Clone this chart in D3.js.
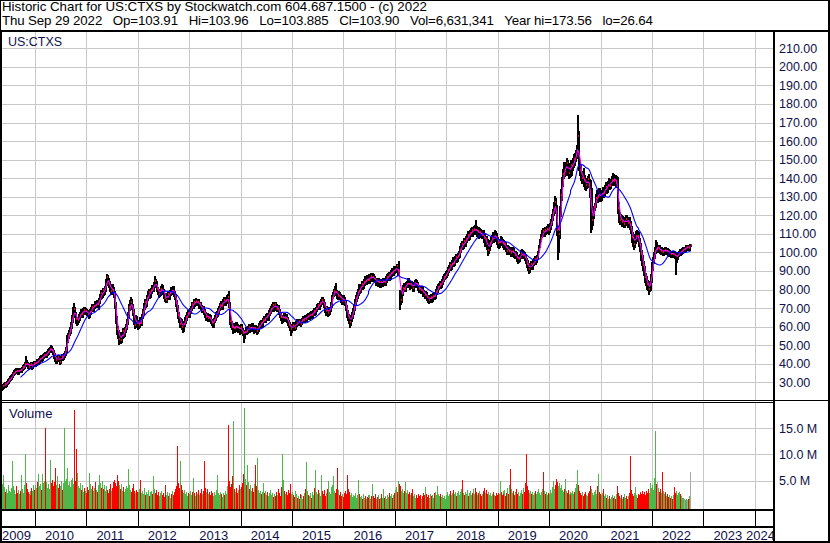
<!DOCTYPE html>
<html><head><meta charset="utf-8">
<script src="https://cdn.jsdelivr.net/npm/d3@7"></script>
<style>html,body{margin:0;padding:0;background:#fff;}svg{display:block;}text{font-family:"Liberation Sans",Arial,sans-serif;}</style>
</head><body><svg id="c" width="830" height="543"></svg>
<script>
const title1 = "Historic Chart for US:CTXS by Stockwatch.com 604.687.1500 - (c) 2022";
const title2 = "Thu Sep 29 2022   Op=103.91   Hi=103.96   Lo=103.885   Cl=103.90   Vol=6,631,341   Year hi=173.56   lo=26.64";
const symbol = "US:CTXS";
const volumeTitle = "Volume";
const firstWeek = "2009-05-04";
const priceTicks = [30,40,50,60,70,80,90,100,110,120,130,140,150,160,170,180,190,200,210];
const volumeTicks = [5,10,15];
const yearLabels = [2009,2010,2011,2012,2013,2014,2015,2016,2017,2018,2019,2020,2021,2022,2023,2024];

// weekly closes
const closes = [
27.0,27.8,28.5,29.0,28.7,29.8,30.5,31.2,32.0,32.5,33.4,34.5,35.2,35.8,36.4,36.0,35.6,36.3,36.8,36.5,37.2,38.0,38.4,39.6,41.2,40.0,38.8,38.5,39.2,39.9,39.0,38.5,39.6,40.2,39.8,
40.5,41.5,41.0,42.0,42.8,43.5,42.9,43.8,44.5,45.2,44.6,45.8,46.5,47.3,48.0,48.6,47.5,46.2,44.8,43.0,41.8,42.5,43.6,42.4,41.2,43.0,44.2,43.5,44.8,45.5,47.5,53.5,55.0,56.5,58.0,60.5,64.0,68.0,69.5,67.0,64.0,62.5,63.5,65.0,66.5,67.8,66.8,68.2,69.0,68.0,68.5,67.8,
67.0,66.0,68.0,69.5,70.5,69.8,71.0,72.5,71.8,73.0,72.0,71.2,74.0,76.5,78.0,77.2,79.5,78.8,80.5,84.0,86.5,85.0,83.0,80.5,79.0,81.5,80.0,77.5,72.0,64.0,58.5,56.0,53.5,55.5,52.8,55.0,57.5,56.0,58.5,60.0,62.5,66.0,70.5,72.5,73.5,71.0,68.0,63.5,61.0,64.5,62.0,60.5,
61.0,63.5,62.0,65.5,68.0,71.0,73.5,72.0,75.5,77.5,78.5,77.0,79.5,81.0,80.2,82.5,84.5,83.0,80.5,79.0,77.5,78.5,80.5,81.5,79.0,77.0,75.5,76.5,74.5,76.0,77.5,76.0,78.5,80.0,79.0,80.5,78.0,76.5,73.0,70.0,66.5,64.0,61.5,63.0,60.0,59.0,61.5,63.5,65.0,66.5,67.5,66.5,
68.5,70.0,72.0,71.5,73.5,72.5,74.0,72.8,73.5,71.5,72.0,70.5,69.0,70.2,68.0,66.5,65.0,66.2,64.5,65.5,64.8,63.0,62.0,61.0,63.5,65.0,66.5,67.0,68.5,70.0,71.5,72.5,71.0,73.5,74.5,73.0,74.0,75.5,76.0,72.0,63.0,61.5,60.0,58.5,59.5,60.5,59.0,61.0,60.0,58.5,59.5,58.0,60.0,
58.0,56.5,55.0,57.0,58.5,57.5,59.0,60.0,58.5,59.5,60.5,59.0,58.0,59.5,58.8,57.5,59.0,60.5,61.5,62.0,61.0,63.5,64.5,63.8,65.5,66.0,65.0,67.5,68.5,69.5,70.5,71.5,70.0,72.0,71.0,69.5,70.5,68.0,66.5,65.0,63.5,65.0,66.0,64.5,65.5,64.0,62.5,61.0,60.0,58.5,59.5,61.0,
60.5,59.5,61.5,62.5,61.8,63.0,62.0,61.5,62.8,63.5,64.5,63.8,65.0,64.2,65.5,66.0,65.2,66.5,67.0,66.2,67.5,68.5,67.8,69.5,70.5,71.5,70.8,72.5,73.5,74.5,73.5,72.0,70.0,68.5,69.5,67.5,68.0,69.5,72.0,75.5,77.5,79.0,80.5,78.5,77.0,76.5,77.5,76.0,75.0,74.0,75.5,74.5,
73.0,70.5,67.0,65.5,64.0,62.5,64.5,66.0,68.5,70.5,73.0,75.5,77.0,78.5,81.0,80.0,81.5,83.0,82.0,84.0,85.5,84.5,86.0,85.0,86.5,85.0,86.5,87.5,86.0,87.0,86.0,85.5,84.0,84.8,83.5,84.5,83.0,84.0,83.5,84.5,85.0,84.0,85.5,86.5,87.5,88.0,87.0,89.0,90.0,89.5,91.0,90.5,
91.0,92.5,89.5,90.0,77.0,74.5,78.5,81.0,82.0,80.5,82.5,83.0,84.5,83.0,82.0,83.0,82.5,81.0,82.5,83.5,84.0,83.0,81.5,80.5,80.0,79.5,80.5,78.5,78.0,77.0,77.5,76.0,75.0,74.5,75.5,76.0,75.0,76.5,77.0,76.5,77.5,78.5,80.0,81.5,82.0,83.0,82.5,84.0,85.5,86.5,87.5,88.0,
89.0,90.5,91.5,93.0,92.0,94.0,95.5,94.5,96.5,97.5,96.5,98.0,99.0,101.5,103.0,104.5,103.5,106.0,105.0,107.0,108.0,109.5,108.5,110.5,111.0,112.0,111.0,112.5,113.0,112.0,110.5,111.5,110.0,111.0,110.0,109.5,110.5,108.0,106.0,107.0,104.0,101.5,103.0,105.0,106.5,107.5,109.0,108.0,110.0,108.5,106.5,105.0,104.5,
105.5,107.0,106.0,104.5,105.0,103.5,104.5,102.5,101.0,102.0,100.5,101.5,99.5,100.5,101.0,99.5,98.5,99.0,97.0,96.0,96.5,98.0,99.5,100.0,98.5,99.0,97.5,96.0,94.0,92.5,91.0,92.0,93.5,92.5,94.0,95.0,96.5,95.5,97.0,99.0,102.0,105.0,108.0,110.5,111.5,110.5,112.0,111.0,112.5,113.5,112.0,114.0,
116.0,119.0,121.5,125.0,127.0,124.0,112.0,104.0,110.0,122.0,131.0,138.0,142.0,146.0,144.0,146.5,148.0,144.5,143.0,145.5,147.0,144.0,146.5,148.5,150.5,150.0,152.5,155.0,163.0,147.0,144.5,142.0,140.0,141.5,139.0,137.0,136.5,138.0,139.5,138.0,133.0,115.0,117.5,121.0,124.5,126.0,129.5,131.0,130.0,132.5,131.0,130.0,
131.5,133.0,132.0,134.5,135.5,134.0,136.5,138.0,136.0,137.5,139.0,140.5,138.5,140.0,137.5,139.0,124.0,119.5,117.5,118.5,116.5,117.5,115.5,116.5,118.0,117.0,116.0,117.5,115.0,112.5,108.5,106.0,104.5,107.5,109.0,110.0,109.0,107.5,106.0,103.5,99.0,96.5,93.0,90.5,87.0,85.5,83.0,82.5,80.5,81.5,86.0,92.5,
95.5,98.5,101.0,104.5,102.0,102.0,102.5,101.0,100.5,101.5,100.0,101.0,101.5,100.5,101.0,100.5,99.5,100.0,99.0,99.5,99.0,99.5,98.5,96.5,98.0,99.0,99.5,100.5,100.0,101.0,101.5,102.0,102.0,102.5,103.0,103.0,102.5,103.9,103.9
];

// weekly highs
const highs = [
28.0,28.4,29.2,29.6,29.5,30.4,31.1,31.9,32.7,33.2,34.0,35.2,35.9,36.5,37.0,36.9,36.4,37.0,37.4,37.3,37.9,38.6,39.1,40.3,43.5,41.6,40.5,39.5,39.9,40.6,40.3,39.5,40.3,40.9,40.8,
41.2,42.2,42.1,42.7,43.5,44.2,44.0,44.5,45.2,45.9,45.8,46.5,47.2,48.0,48.7,49.8,49.0,48.0,46.8,45.4,43.6,43.3,44.3,44.2,42.9,43.8,44.9,44.8,45.5,46.3,48.5,55.0,56.2,57.6,59.1,61.8,65.5,70.0,72.0,70.0,67.5,64.5,64.8,66.2,67.6,68.8,68.5,69.3,70.1,69.8,69.6,69.2,
68.5,67.8,68.8,70.3,71.4,71.2,71.8,73.3,73.2,73.8,73.6,72.6,74.8,77.3,79.0,78.9,80.3,80.2,81.4,85.0,88.0,87.4,85.8,84.0,81.5,82.4,82.3,80.8,78.5,73.0,65.0,59.8,57.5,56.6,56.4,56.2,58.6,58.5,59.5,61.0,63.6,67.5,71.8,74.0,75.2,74.3,71.8,68.8,64.5,65.6,65.3,63.0,
62.0,64.5,64.2,66.5,69.2,72.0,74.6,74.2,76.4,78.6,79.5,79.2,80.3,82.0,81.8,83.3,87.0,85.4,83.8,81.0,79.8,79.4,81.5,82.4,82.0,79.8,77.8,77.4,77.2,76.9,78.4,78.2,79.4,80.9,80.6,81.4,81.2,78.8,77.3,73.8,70.9,67.2,64.9,64.2,63.8,60.9,62.4,64.4,65.8,67.3,68.5,68.2,
69.3,70.8,72.9,72.8,74.3,74.4,75.0,74.6,74.3,74.2,72.9,72.6,71.2,70.8,70.8,68.8,67.2,67.0,66.9,66.4,66.2,65.6,63.7,62.8,64.3,65.8,67.3,67.9,69.4,70.8,72.4,73.4,73.2,74.3,75.4,75.2,74.9,76.4,77.2,78.8,73.0,64.0,62.4,61.0,60.3,61.4,61.3,61.8,61.9,60.8,60.4,60.2,60.8,
60.8,58.8,57.2,57.8,59.4,59.2,59.8,60.9,60.7,60.3,61.3,61.2,59.7,60.3,60.2,59.4,59.8,61.4,62.3,62.9,62.7,64.3,65.4,65.2,66.4,67.0,66.8,68.4,69.3,70.4,71.4,72.6,72.2,72.8,72.6,71.8,71.3,71.2,68.8,67.3,65.8,66.0,66.9,66.8,66.3,66.2,64.8,63.3,61.8,60.9,60.3,61.9,
61.8,61.2,62.3,63.4,63.3,63.8,63.7,62.9,63.6,64.3,65.2,65.2,65.8,65.8,66.3,66.8,66.7,67.3,67.8,67.8,68.3,69.3,69.2,70.3,71.4,72.3,72.4,73.3,74.3,75.4,75.3,74.2,72.8,70.8,70.4,70.2,68.9,70.3,72.8,76.6,78.3,79.8,81.6,82.8,79.3,78.2,78.4,78.2,76.8,75.8,76.3,76.3,
75.2,73.6,71.2,68.2,66.4,64.8,65.6,67.2,69.5,71.6,74.2,76.6,78.2,79.6,82.2,81.8,82.5,84.2,83.8,85.0,86.7,86.3,87.1,86.8,87.6,87.2,87.5,88.6,88.4,88.1,87.8,86.8,85.8,85.7,85.6,85.5,85.4,84.9,84.8,85.5,85.9,85.8,86.5,87.6,88.5,89.0,88.8,89.9,91.0,90.8,92.0,92.2,
92.0,93.4,93.2,95.0,79.0,78.6,79.4,82.0,83.2,83.0,83.6,84.2,85.6,85.5,83.6,84.0,83.8,83.2,83.4,84.6,85.0,84.6,83.6,82.0,81.2,80.8,81.4,81.2,79.2,78.6,78.4,78.2,76.6,75.9,76.5,76.9,76.8,77.4,77.9,77.8,78.6,79.6,81.2,82.6,83.2,84.0,83.8,85.2,86.7,87.6,88.6,89.2,
90.2,91.6,92.6,94.2,94.0,95.2,96.8,96.6,97.6,98.8,98.6,99.2,100.4,102.8,104.4,105.8,105.6,107.4,107.2,108.4,109.4,110.8,110.6,111.8,112.4,113.4,113.2,113.8,114.4,117.0,113.6,112.8,113.0,112.4,112.2,111.2,111.8,111.6,109.8,108.2,108.5,106.8,104.8,106.4,107.8,108.8,110.2,110.6,111.4,111.2,110.0,108.0,106.2,
106.8,108.4,107.6,106.6,106.2,105.6,105.8,105.0,103.4,103.2,102.8,102.6,102.2,101.8,102.2,101.6,100.2,100.2,99.8,97.8,97.4,98.8,100.6,101.2,100.8,100.2,99.6,98.4,96.6,95.2,93.6,93.2,94.6,94.4,95.2,96.2,97.6,97.4,98.2,100.4,103.4,106.6,109.6,111.8,112.8,112.6,113.4,112.8,113.8,114.8,114.6,115.4,
117.2,120.4,122.8,126.4,130.0,128.6,125.0,113.6,113.2,124.4,133.6,140.2,144.2,148.4,148.0,148.2,150.2,149.4,146.2,147.6,149.2,148.4,148.6,150.6,152.6,152.8,154.6,157.2,173.56,165.0,149.2,146.4,142.6,143.6,144.8,141.4,139.8,139.8,140.8,141.6,139.2,138.6,134.4,119.6,122.8,126.2,131.2,133.0,132.6,134.4,134.2,132.2,
133.2,134.6,134.2,135.8,137.2,136.8,137.8,139.6,139.2,139.0,140.6,142.2,141.8,141.4,141.2,140.6,140.2,126.4,121.2,120.2,119.6,119.2,118.6,118.0,119.4,119.6,118.4,118.8,118.6,116.6,113.8,110.2,107.6,109.2,110.8,111.4,111.2,110.4,108.6,107.0,104.8,100.6,98.2,94.8,92.2,88.6,86.8,84.6,84.0,82.8,87.6,94.2,
97.2,99.8,102.6,106.0,105.2,103.2,103.4,103.2,101.8,102.2,102.0,101.8,102.2,102.2,101.8,101.6,101.2,100.8,100.4,100.2,100.2,100.2,100.0,99.8,98.8,99.6,100.2,101.2,101.2,101.8,102.2,102.6,102.6,103.2,103.6,103.6,103.4,104.2,103.96
];

// weekly lows
const lows = [
26.64,26.9,27.6,28.3,28.1,28.4,29.6,30.3,31.0,31.7,32.3,33.2,34.4,35.0,35.6,35.4,34.9,35.1,35.9,35.9,36.2,37.0,37.6,38.1,39.3,39.5,38.1,37.8,38.2,38.9,38.4,37.9,38.3,39.2,39.2,
39.3,40.0,40.4,40.6,41.6,42.3,42.2,42.4,43.4,44.0,44.0,44.1,45.4,46.0,46.7,47.4,46.9,45.6,43.9,42.1,40.9,41.2,42.0,41.8,40.5,40.8,42.5,42.8,43.0,44.2,45.0,47.0,52.5,54.4,56.0,57.3,59.8,63.2,67.0,65.8,62.5,61.3,61.9,62.8,64.3,65.9,65.9,66.0,67.5,67.1,67.2,66.8,
66.2,65.2,65.5,67.5,69.0,68.9,69.2,70.4,71.0,71.1,71.2,70.3,70.5,73.2,75.7,76.2,76.5,77.8,78.0,79.7,83.2,84.0,82.0,79.5,78.0,78.2,79.0,76.4,70.8,62.5,56.6,54.5,51.0,52.5,51.5,52.1,54.5,55.0,55.3,57.5,59.2,61.8,65.0,69.5,71.6,70.0,66.8,62.2,59.8,60.2,61.0,59.2,
59.6,60.3,61.2,61.5,65.0,67.5,70.3,71.1,71.4,74.7,77.2,76.1,76.4,78.9,79.5,79.5,81.8,82.0,79.8,78.1,76.6,76.8,77.8,79.8,78.0,76.1,74.6,74.8,73.6,73.8,75.2,75.3,75.2,77.6,78.1,78.2,77.0,75.4,71.8,68.8,65.3,63.0,60.4,60.6,59.1,57.8,58.3,60.8,62.6,64.3,65.8,65.6,
66.0,67.9,69.5,70.7,70.8,71.8,72.0,72.0,72.2,70.8,70.7,69.8,68.2,68.4,67.1,65.8,64.2,64.3,63.6,63.8,64.0,62.3,61.2,60.2,60.5,62.8,64.2,66.0,66.2,67.8,69.5,70.8,70.2,70.3,72.8,72.2,72.2,73.2,74.8,71.2,61.8,60.6,59.1,57.2,57.5,58.6,57.8,58.3,59.1,57.6,57.6,56.8,57.4,
57.2,55.8,52.0,54.5,56.6,56.8,56.9,58.3,57.8,58.0,58.9,58.2,57.2,57.4,58.0,56.6,56.9,58.3,59.8,60.7,60.1,60.4,62.8,62.9,63.0,64.9,64.2,64.2,66.9,68.0,68.8,69.8,69.1,69.3,70.2,68.8,68.7,67.2,65.6,64.2,62.6,62.8,64.2,63.6,63.8,63.2,61.6,60.1,58.9,56.0,57.8,58.7,
59.6,58.8,59.2,61.0,61.2,61.2,61.3,60.8,61.0,62.2,62.8,63.0,63.2,63.4,63.5,64.8,64.5,64.6,66.0,65.4,65.6,67.6,67.0,67.2,68.8,69.8,70.0,70.2,71.8,72.8,72.5,71.2,68.6,67.0,67.2,66.2,66.6,67.4,68.8,71.2,76.2,76.8,78.2,77.6,75.8,75.3,75.6,75.2,74.0,72.8,73.0,73.6,
72.1,69.6,65.8,64.2,62.6,60.2,61.6,63.7,65.2,67.6,69.6,72.1,74.5,76.2,77.6,78.9,79.2,80.6,81.0,81.2,83.1,83.5,83.6,84.0,84.1,84.0,84.2,85.6,85.2,85.3,85.0,84.6,82.9,83.1,82.5,82.7,82.0,82.1,82.6,82.6,83.6,83.0,83.2,84.6,85.6,86.0,85.9,86.0,88.0,88.4,88.5,89.4,
89.8,90.2,88.6,88.7,70.0,72.8,73.8,77.6,80.2,79.6,79.8,81.8,82.4,82.0,80.8,81.4,81.4,79.8,80.0,81.7,82.6,82.0,80.2,79.4,79.0,78.4,78.6,77.2,77.0,76.0,76.2,74.8,73.8,73.2,73.6,74.6,74.0,74.2,75.8,75.6,76.2,77.2,78.0,79.4,80.6,81.6,81.4,82.0,83.6,85.2,86.2,86.8,
87.4,88.4,89.8,91.0,90.8,91.4,93.6,93.0,93.8,95.8,95.4,95.8,97.4,98.2,100.8,102.6,102.2,102.8,103.8,104.2,106.2,107.2,107.2,107.8,109.6,110.2,109.6,110.2,111.4,110.6,109.2,109.6,108.4,109.0,108.6,108.2,108.6,106.4,104.2,104.8,102.4,99.0,100.2,101.8,104.0,105.6,106.6,106.4,106.8,107.2,105.0,103.4,102.8,
103.6,104.8,105.0,103.4,103.6,102.4,102.6,101.4,99.8,100.4,99.6,99.8,98.4,98.8,99.6,98.2,97.4,97.6,95.8,94.8,95.2,95.8,97.6,98.8,97.4,97.6,96.4,94.8,92.8,91.2,89.6,90.0,91.4,91.4,91.6,93.8,94.4,94.2,95.6,97.6,100.6,103.6,106.6,108.8,109.2,109.4,109.6,110.2,110.8,111.2,110.6,111.4,
113.0,115.2,117.8,120.6,123.8,121.8,110.0,97.0,100.6,108.4,120.0,129.0,136.2,140.6,141.8,142.2,144.6,142.0,140.8,141.4,143.6,141.8,142.4,145.0,146.8,147.4,150.0,151.6,152.0,145.2,142.4,139.6,137.8,138.0,136.4,134.8,134.2,135.0,136.4,135.8,130.2,111.4,113.2,115.4,119.2,123.4,125.0,128.2,127.8,128.4,128.8,128.0,
128.8,130.4,130.6,131.0,133.6,132.6,133.2,135.4,134.6,135.0,136.8,138.4,136.6,136.8,136.0,136.2,122.0,117.0,115.6,116.0,114.8,115.2,114.0,114.2,115.4,115.2,114.2,114.6,113.4,110.8,106.2,103.8,102.2,103.6,105.8,107.6,106.8,105.6,104.0,101.2,96.6,94.0,90.8,88.2,84.8,83.2,80.6,80.2,78.0,79.6,80.2,84.4,
91.0,94.8,97.6,100.2,100.8,100.6,100.8,100.2,99.6,99.8,99.2,99.4,100.4,99.8,99.8,99.2,98.6,98.8,98.2,98.4,98.0,98.2,97.6,88.8,95.4,97.2,98.6,99.0,99.2,99.6,100.4,101.0,101.2,101.4,102.0,102.0,101.8,102.0,103.885
];

// weekly volume (millions of shares)
const volumes = [
9.0,4.4,6.0,3.8,2.9,3.5,2.6,4.2,3.1,2.8,3.6,8.7,4.0,3.2,2.5,3.9,2.7,3.3,2.4,3.0,6.0,3.4,2.6,4.1,10.0,4.6,3.5,2.8,2.4,3.1,2.2,3.7,3.0,4.1,3.3,
4.2,3.6,4.8,6.3,3.9,4.4,3.2,6.2,4.5,5.0,15.0,4.8,3.7,4.3,3.5,9.0,4.6,5.1,4.0,4.8,7.5,4.2,5.8,3.6,4.4,3.9,5.0,3.3,4.6,15.0,4.9,5.3,7.5,4.1,4.7,3.8,5.2,5.5,4.4,18.5,5.0,11.0,6.5,4.0,3.6,4.5,3.2,4.1,2.9,3.7,3.0,2.6,
3.8,3.2,6.5,4.4,3.5,4.0,3.1,3.6,4.7,3.3,2.9,3.8,4.2,6.0,4.5,3.7,5.0,3.4,4.1,3.0,3.9,3.2,2.7,3.5,4.3,3.0,3.6,4.8,5.1,4.6,3.9,6.0,5.0,4.2,3.5,4.4,3.1,3.8,2.8,3.4,4.0,3.6,7.3,4.1,3.2,2.9,3.7,4.3,3.0,2.6,3.3,2.8,
2.9,3.4,5.2,2.7,3.1,2.4,3.6,2.2,2.9,2.5,3.3,2.1,2.8,3.0,2.4,5.8,3.5,2.6,3.2,2.3,2.8,2.0,2.6,3.1,2.2,2.7,1.9,2.5,4.2,2.3,2.9,2.1,2.6,1.8,2.4,3.0,2.2,2.8,3.4,4.0,11.5,4.5,3.6,8.8,4.1,3.2,2.7,3.3,2.4,2.9,2.1,2.6,
2.5,3.0,2.3,2.8,5.6,2.6,2.1,2.9,2.4,3.2,2.2,2.7,3.4,2.5,3.0,8.8,3.6,2.8,3.5,2.4,2.9,2.2,3.1,2.6,2.0,2.8,2.3,3.3,6.0,2.7,2.2,2.9,2.4,1.9,2.6,2.2,3.0,2.5,4.0,15.5,5.0,3.8,4.4,5.8,16.3,4.6,3.5,2.9,3.6,2.7,3.2,4.2,3.4,
3.8,4.6,6.2,18.8,5.4,4.1,8.0,4.8,3.5,4.2,3.0,3.6,2.8,4.4,8.0,3.9,9.3,3.3,2.7,3.1,2.4,2.9,4.5,2.6,3.0,2.3,2.8,2.1,2.6,3.2,2.2,2.7,1.9,2.4,2.0,2.9,2.3,3.4,2.6,2.1,3.8,10.0,5.2,3.1,2.5,2.9,2.2,3.3,2.6,4.4,2.4,2.8,
2.2,1.9,3.0,2.4,1.7,2.1,1.6,2.5,1.8,2.2,1.5,2.0,2.7,3.4,8.5,3.1,2.3,2.0,2.6,1.8,2.9,2.2,3.6,7.0,2.8,2.4,3.2,2.6,2.0,6.0,3.0,2.5,3.3,2.1,2.7,3.5,5.0,2.9,2.4,3.8,4.2,5.8,3.1,2.6,3.4,7.5,3.2,2.3,2.8,2.0,2.5,1.9,
2.6,3.1,2.4,6.0,3.4,2.8,2.2,2.7,1.9,2.3,2.0,2.6,1.8,2.2,5.2,2.5,1.9,2.1,1.6,2.4,1.8,2.0,1.5,1.9,2.2,1.7,2.3,1.6,2.0,4.3,2.1,1.7,2.4,1.5,1.9,2.2,1.6,1.8,2.5,1.7,3.5,1.8,2.1,1.6,2.3,1.9,2.6,2.0,2.4,1.8,2.2,2.7,
3.2,3.8,2.9,5.0,4.4,3.9,3.0,3.5,2.6,3.1,4.8,2.7,3.3,2.4,2.8,2.2,2.6,3.5,2.0,2.4,1.8,2.2,1.7,2.5,2.0,2.3,1.6,2.1,2.7,2.2,3.8,2.4,1.9,2.2,1.7,2.5,2.0,2.3,1.8,2.6,2.1,2.8,2.3,3.9,2.5,2.0,2.4,1.9,2.2,1.7,2.1,1.6,
2.3,2.8,2.1,2.5,3.0,2.2,2.7,3.3,2.4,2.9,2.0,2.6,3.1,2.3,2.8,3.5,5.2,2.6,2.2,2.9,2.4,3.2,2.1,2.6,3.0,2.3,2.7,3.4,2.5,3.6,2.8,2.2,2.6,3.1,2.4,2.0,2.5,3.0,3.6,2.7,3.2,2.4,2.9,2.2,2.6,2.1,2.5,2.9,2.3,2.0,2.6,2.2,2.7,
2.4,5.0,2.8,2.2,3.0,2.5,3.3,2.1,2.7,3.6,2.4,4.2,7.3,3.4,2.6,3.0,2.2,2.8,3.5,2.4,2.9,2.1,2.7,3.2,2.5,3.6,2.8,4.5,10.0,4.0,3.3,2.6,3.1,2.4,2.9,2.2,2.7,3.0,2.4,2.8,3.4,2.6,2.2,2.9,3.5,6.7,3.1,2.5,2.9,2.2,2.7,2.4,
3.2,2.7,3.8,5.0,3.4,4.2,5.3,4.8,3.9,4.6,3.6,4.1,3.2,2.8,3.5,5.4,3.0,2.6,3.3,2.4,2.9,2.2,2.7,3.1,2.5,2.9,3.6,4.4,7.0,4.2,3.1,2.6,2.3,2.8,2.1,2.5,2.8,2.3,2.0,2.6,3.0,3.9,3.4,2.7,2.3,2.9,3.3,2.5,4.0,6.3,2.8,2.4,
2.2,2.6,3.5,2.0,2.4,1.8,2.2,1.6,2.0,1.5,1.9,2.3,1.7,2.1,1.6,2.4,3.9,2.6,2.0,1.7,2.2,1.6,1.9,2.4,1.8,2.1,1.5,2.0,2.6,9.6,3.3,2.5,2.1,2.7,3.8,2.2,1.8,2.4,1.9,2.3,2.9,2.5,3.1,2.4,2.8,2.2,3.0,2.6,3.4,2.7,4.6,3.6,
4.2,3.3,5.5,14.5,4.4,4.7,3.6,2.9,3.4,2.6,6.7,3.0,2.4,2.8,2.1,2.5,1.9,2.2,1.7,2.0,1.6,2.3,3.8,2.6,3.0,2.2,2.7,2.9,2.4,2.0,1.7,1.8,1.5,1.4,1.6,1.3,1.5,2.0,6.6
];

if (highs.length !== closes.length || lows.length !== closes.length || volumes.length !== closes.length) {
  throw new Error("length mismatch " + closes.length + " " + highs.length + " " + lows.length + " " + volumes.length);
}

const svg = d3.select("#c");
const W = 830, H = 543;
const L = 2, R = 773, PT = 32, PB = 400, VT = 402, VB = 509;
const navy = "#10104a";
const grid = "#c8c8c8";

const t0 = d3.timeParse("%Y-%m-%d")(firstWeek);
const dates = closes.map((_, i) => d3.timeDay.offset(t0, 7 * i));

const x = d3.scaleTime().domain([new Date(2010, 0, 1), new Date(2022, 0, 1)]).range([35, 652]);
const y = d3.scaleLinear().domain([30, 210]).range([382.3, 48.3]);
const yv = d3.scaleLinear().domain([0, 15]).range([507, 428]);

svg.append("rect").attr("width", W).attr("height", H).attr("fill", "#fff");

const defs = svg.append("defs");
defs.append("clipPath").attr("id", "clipP").append("rect").attr("x", L).attr("y", PT).attr("width", R - L).attr("height", PB - PT);
defs.append("clipPath").attr("id", "clipV").append("rect").attr("x", L).attr("y", VT).attr("width", R - L).attr("height", VB - VT);

// gridlines
const gg = svg.append("g").attr("stroke", grid).attr("stroke-width", 1).attr("shape-rendering", "crispEdges");
priceTicks.forEach(t => {
  const yy = Math.round(y(t)) + 0.5;
  gg.append("line").attr("x1", L).attr("x2", R).attr("y1", yy).attr("y2", yy);
});
volumeTicks.forEach(t => {
  const yy = Math.round(yv(t)) + 0.5;
  gg.append("line").attr("x1", L).attr("x2", R).attr("y1", yy).attr("y2", yy);
});
const yearBounds = yearLabels.slice(1).map(yr => new Date(yr, 0, 1)).filter(d => x(d) < R);
yearBounds.forEach(d => {
  const xx = Math.round(x(d)) + 0.5;
  gg.append("line").attr("x1", xx).attr("x2", xx).attr("y1", PT).attr("y2", PB);
  gg.append("line").attr("x1", xx).attr("x2", xx).attr("y1", VT).attr("y2", VB);
});

// volume bars
const volColor = i => (i === 0 || closes[i] === closes[i - 1]) ? "#a8a8a8" : (closes[i] > closes[i - 1] ? "#4db848" : "#ff0000");
svg.append("g").attr("clip-path", "url(#clipV)").attr("shape-rendering", "crispEdges")
  .selectAll("rect").data(volumes).join("rect")
  .attr("x", (d, i) => Math.round(x(dates[i])))
  .attr("width", 1)
  .attr("y", d => Math.round(yv(d)))
  .attr("height", d => VB - Math.round(yv(d)))
  .attr("fill", (d, i) => volColor(i));

// price bars (high-low) and close ticks
const gp = svg.append("g").attr("clip-path", "url(#clipP)").attr("shape-rendering", "crispEdges");
const hiY = i => Math.round(y(Math.max(highs[i], closes[i]))) - 1;
const loY = i => Math.round(y(Math.min(lows[i], closes[i]))) + 1;
gp.selectAll("rect.hl").data(closes).join("rect").attr("class", "hl")
  .attr("x", (d, i) => Math.round(x(dates[i])))
  .attr("width", 2)
  .attr("y", (d, i) => hiY(i))
  .attr("height", (d, i) => loY(i) - hiY(i) + 1)
  .attr("fill", "#000");
gp.selectAll("rect.cl").data(closes.filter((d, i) => i % 2 === 1)).join("rect").attr("class", "cl")
  .attr("x", (d, k) => Math.round(x(dates[2 * k + 1])) + 1)
  .attr("width", 1)
  .attr("y", d => Math.round(y(d)) - 1)
  .attr("height", 2)
  .attr("fill", "#ff0000");

// moving averages
function sma(n) { return closes.map((c, i) => i < n - 1 ? null : d3.mean(closes.slice(i - n + 1, i + 1))); }
const maShort = sma(4), maLong = sma(20);
const line = d3.line().defined(d => d[1] != null).x(d => Math.round(x(d[0])) + 0.5).y(d => y(d[1]));
const gm = svg.append("g").attr("clip-path", "url(#clipP)").attr("fill", "none");
gm.append("path").attr("d", line(dates.map((d, i) => [d, maShort[i]]))).attr("stroke", "#ff00ff").attr("stroke-width", 1.1);
gm.append("path").attr("d", line(dates.map((d, i) => [d, maLong[i]]))).attr("stroke", "#0000ff").attr("stroke-width", 1.1);

// axes (right)
const ap = svg.append("g").attr("transform", `translate(${R},0)`)
  .call(d3.axisRight(y).tickValues(priceTicks).tickFormat(d3.format(".2f")).tickSize(0).tickPadding(6));
ap.select(".domain").remove();
ap.selectAll("text").attr("fill", navy).attr("font-size", "12.5px").attr("font-family", '"Liberation Sans",Arial,sans-serif');
const av = svg.append("g").attr("transform", `translate(${R},0)`)
  .call(d3.axisRight(yv).tickValues(volumeTicks).tickFormat(d => d3.format(".1f")(d) + " M").tickSize(0).tickPadding(6));
av.select(".domain").remove();
av.selectAll("text").attr("fill", navy).attr("font-size", "12.5px").attr("font-family", '"Liberation Sans",Arial,sans-serif');

// frame
const fr = svg.append("g").attr("fill", "#000").attr("shape-rendering", "crispEdges");
const box = (a, b, w, h) => fr.append("rect").attr("x", a).attr("y", b).attr("width", w).attr("height", h);
box(0, 0, W, 1);
box(0, 30, W, 2);
box(0, 0, 1, 30);
box(0, 30, 2, H - 30);
box(W - 2, 0, 2, H);
box(R, 30, 2, H - 30);
box(0, 400, R + 2, 1);
box(0, 402, R + 2, 1);
box(R + 2, 400, W - R - 2, 1);
box(0, VB, R + 2, 2);
box(0, 526, R + 2, 2);
box(0, H - 2, W, 2);
yearBounds.forEach(d => box(Math.round(x(d)), VB + 2, 1, 526 - VB - 2));

// year labels
const gy = svg.append("g");
yearLabels.forEach(yr => {
  const t = gy.append("text").text(String(yr)).attr("font-size", "13px").attr("fill", navy).attr("y", 540);
  const w = t.node().getComputedTextLength();
  const xs = Math.max(2, Math.min(x(new Date(yr, 0, 1)) + 10, R + 2 - w));
  t.attr("x", xs);
});

// titles
svg.append("text").attr("x", 2).attr("y", 11).attr("font-size", "13.3px").attr("fill", "#000").text(title1);
svg.append("text").attr("x", 2).attr("y", 25).attr("font-size", "13.3px").attr("fill", "#000")
  .style("white-space", "pre").attr("textLength", 651).attr("lengthAdjust", "spacing").text(title2);
svg.append("text").attr("x", 8).attr("y", 46).attr("font-size", "12.5px").attr("fill", navy).text(symbol);
svg.append("text").attr("x", 9).attr("y", 418).attr("font-size", "13px").attr("fill", navy).text(volumeTitle);
</script>
</body></html>
